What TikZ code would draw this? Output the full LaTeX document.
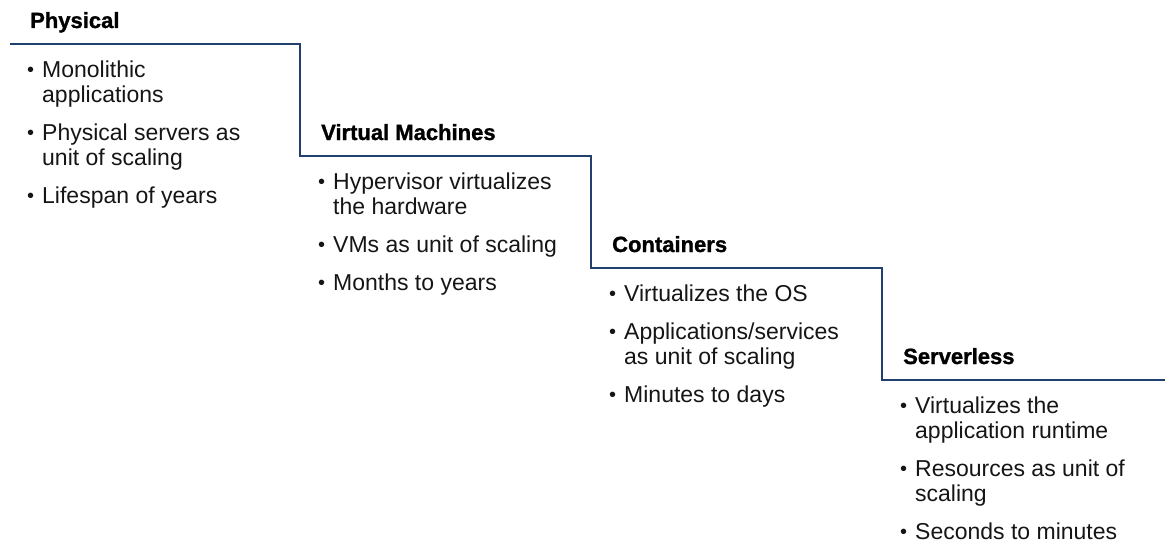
\documentclass[tikz,border=0pt]{standalone}
\usepackage{fontspec}
\setmainfont{Liberation Sans}
\newfontfamily\headfont{Liberation Sans}[BoldFeatures={FakeBold=1.2}]
\definecolor{stepline}{HTML}{22406E}
\definecolor{txt}{HTML}{151515}
\tikzset{
  head/.style={anchor=base west, inner sep=0pt, font=\headfont\fontsize{22}{25}\selectfont\bfseries, text=black},
  itemline/.style={anchor=base west, inner sep=0pt, font=\fontsize{23}{25}\selectfont, text=txt},
  stepstroke/.style={draw=stepline, line width=1.8pt, line join=miter}
}
\newcommand{\bl}{\llap{\raisebox{0.8pt}{\fontsize{20}{20}\selectfont\textbullet}\hspace{8pt}}}
\begin{document}
\begin{tikzpicture}[x=1pt,y=-1pt]
\useasboundingbox (0,0) rectangle (1165,543);
% step line
\coordinate (s0) at (10,44);
\coordinate (s1) at (300,44);
\coordinate (s2) at (300,156);
\coordinate (s3) at (591,156);
\coordinate (s4) at (591,268);
\coordinate (s5) at (882,268);
\coordinate (s6) at (882,380);
\coordinate (s7) at (1165,380);
\draw[stepstroke] (s0) -- (s1) -- (s2) -- (s3) -- (s4) -- (s5) -- (s6) -- (s7);

% Column 1
\node[head] (h1) at (30,28) {Physical};
\node[itemline] (a1) at (42,77.5) {\bl Monolithic};
\node[itemline] (a2) at (42,102.5) {applications};
\node[itemline] (a3) at (42,140.5) {\bl Physical servers as};
\node[itemline] (a4) at (42,165.5) {unit of scaling};
\node[itemline] (a5) at (42,203.5) {\bl Lifespan of years};

% Column 2
\node[head] (h2) at (321,140) {Virtual Machines};
\node[itemline] (b1) at (333,189.5) {\bl Hypervisor virtualizes};
\node[itemline] (b2) at (333,214.5) {the hardware};
\node[itemline] (b3) at (333,252.5) {\bl VMs as unit of scaling};
\node[itemline] (b4) at (333,290.5) {\bl Months to years};

% Column 3
\node[head] (h3) at (612,252) {Containers};
\node[itemline] (c1) at (624,301.5) {\bl Virtualizes the OS};
\node[itemline] (c2) at (624,339.5) {\bl Applications/services};
\node[itemline] (c3) at (624,364.5) {as unit of scaling};
\node[itemline] (c4) at (624,402.5) {\bl Minutes to days};

% Column 4
\node[head] (h4) at (903,364) {Serverless};
\node[itemline] (d1) at (915,413.5) {\bl Virtualizes the};
\node[itemline] (d2) at (915,438.5) {application runtime};
\node[itemline] (d3) at (915,476.5) {\bl Resources as unit of};
\node[itemline] (d4) at (915,501.5) {scaling};
\node[itemline] (d5) at (915,539.5) {\bl Seconds to minutes};
\end{tikzpicture}
\end{document}
